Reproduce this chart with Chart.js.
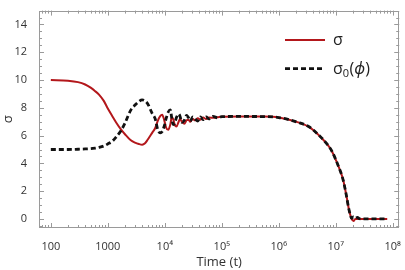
<!DOCTYPE html>
<html>
<head>
<meta charset="utf-8">
<script src="https://cdn.jsdelivr.net/npm/chart.js@4"></script>
<style>
  body { margin: 0; background: #fff; }
  canvas { display: block; }
</style>
</head>
<body>
<canvas id="sigma-chart" width="405" height="270"></canvas>
<script>
var times = [100, 200, 300, 400, 500, 600, 700, 850, 1000, 1200, 1400, 1700, 2000, 2500, 3000, 3500, 4000, 4500, 5000, 6000, 6800, 7500, 8300,
  9000, 9800, 10500, 11500, 12500, 13200, 14000, 15000, 16000, 17500, 18500, 20000, 22000, 24000, 26000, 28000, 31000, 34000, 38000, 42000,
  47000, 53000, 60000, 70000, 85000, 1e5, 2e5, 5e5, 1e6, 2.2e6, 3.5e6, 5e6, 7e6, 8.5e6, 1.1e7, 1.35e7, 1.55e7, 1.7e7, 1.9e7, 2.05e7,
  2.2e7, 2.4e7, 2.6e7, 3e7, 5e7, 8e7];

var sigma = [10.0, 9.95, 9.85, 9.68, 9.45, 9.2, 8.95, 8.5, 7.95, 7.4, 6.95, 6.45, 6.1, 5.68, 5.5, 5.4, 5.35, 5.45, 5.7, 6.2, 6.55, 7.05, 7.4,
  7.5, 7.1, 6.6, 6.42, 6.8, 7.3, 7.2, 6.75, 6.65, 7.0, 7.2, 7.0, 6.85, 7.1, 7.15, 7.0, 7.2, 7.1, 7.25, 7.15,
  7.3, 7.2, 7.3, 7.28, 7.33, 7.35, 7.38, 7.37, 7.3, 6.95, 6.6, 6.05, 5.4, 4.9, 3.85, 2.8, 1.6, 0.7, 0.0, -0.15,
  0.0, 0.0, 0.0, 0.0, 0.0, 0.0];

var sigma0 = [5.0, 5.0, 5.02, 5.04, 5.06, 5.1, 5.15, 5.25, 5.4, 5.6, 5.9, 6.35, 6.9, 7.8, 8.2, 8.45, 8.57, 8.5, 8.3, 7.6, 7.2, 6.45, 6.2,
  6.3, 6.7, 7.2, 7.7, 7.85, 7.3, 6.8, 6.9, 7.3, 7.55, 7.4, 6.95, 7.1, 7.45, 7.3, 7.05, 7.35, 7.2, 7.05, 7.35,
  7.15, 7.35, 7.2, 7.38, 7.28, 7.37, 7.38, 7.37, 7.3, 6.95, 6.6, 6.05, 5.4, 4.9, 3.85, 2.8, 1.6, 0.7, 0.05, 0.15,
  0.05, 0.12, 0.02, 0.0, 0.0, 0.0];

var xTickValues = [100, 1000, 1e4, 1e5, 1e6, 1e7, 1e8];
var xTickLabels = ["100", "1000", "10\u2074", "10\u2075", "10\u2076", "10\u2077", "10\u2078"];

var fontFamily = "'Open Sans', 'Noto Sans', sans-serif";
var redColor = "#b3171b";

function pairs(xs, ys) {
  return xs.map(function(t, i) { return { x: t, y: ys[i] }; });
}

// frame with inward ticks on all four sides, plus the legend
var framePlugin = {
  id: "frame",
  afterDraw: function(chart) {
    var ctx = chart.ctx;
    var a = chart.chartArea;
    var xs = chart.scales.x, ys = chart.scales.y;
    ctx.save();
    ctx.strokeStyle = "#9a9a9a";
    ctx.lineWidth = 1;
    ctx.strokeRect(Math.round(a.left) + 0.5, Math.round(a.top) + 0.5,
      Math.round(a.right - a.left) - 1, Math.round(a.bottom - a.top) - 1);

    ctx.beginPath();
    for (var d = 1; d <= 8; d++) {
      for (var m = 1; m <= 9; m++) {
        var v = m * Math.pow(10, d);
        if (v < xs.min || v > xs.max) continue;
        var px = Math.round(xs.getPixelForValue(v)) + 0.5;
        var len = m === 1 ? 5 : 3;
        ctx.moveTo(px, a.bottom); ctx.lineTo(px, a.bottom - len);
        ctx.moveTo(px, a.top); ctx.lineTo(px, a.top + len);
      }
    }
    for (var yv = Math.ceil(ys.min / 0.5) * 0.5; yv <= ys.max; yv += 0.5) {
      var py = Math.round(ys.getPixelForValue(yv)) + 0.5;
      var l = (Math.abs(yv % 2) < 1e-6) ? 5 : 3;
      ctx.moveTo(a.left, py); ctx.lineTo(a.left + l, py);
      ctx.moveTo(a.right, py); ctx.lineTo(a.right - l, py);
    }
    ctx.stroke();

    // legend
    var lx = a.left + 246, tx = lx + 48;
    ctx.lineWidth = 2;
    ctx.strokeStyle = redColor;
    ctx.beginPath();
    ctx.moveTo(lx, a.top + 29.5); ctx.lineTo(lx + 40, a.top + 29.5);
    ctx.stroke();
    ctx.strokeStyle = "#111";
    ctx.lineWidth = 2.8;
    ctx.setLineDash([5, 3]);
    ctx.beginPath();
    ctx.moveTo(lx, a.top + 58); ctx.lineTo(lx + 40, a.top + 58);
    ctx.stroke();
    ctx.setLineDash([]);

    ctx.fillStyle = "#222";
    ctx.textBaseline = "alphabetic";
    ctx.font = "16px " + fontFamily;
    ctx.fillText("\u03c3", tx, a.top + 34);
    var by = a.top + 63;
    ctx.fillText("\u03c3", tx, by);
    var w = ctx.measureText("\u03c3").width;
    ctx.font = "11px " + fontFamily;
    ctx.fillText("0", tx + w, by + 3);
    w += ctx.measureText("0").width + 0.5;
    ctx.font = "16px " + fontFamily;
    ctx.fillText("(", tx + w, by);
    w += ctx.measureText("(").width;
    ctx.font = "italic 16px " + fontFamily;
    ctx.fillText("\u03d5", tx + w, by);
    w += ctx.measureText("\u03d5").width;
    ctx.font = "16px " + fontFamily;
    ctx.fillText(")", tx + w, by);
    ctx.restore();
  }
};

var chart = new Chart(document.getElementById("sigma-chart"), {
  type: "line",
  data: {
    datasets: [
      {
        label: "\u03c3",
        data: pairs(times, sigma),
        borderColor: redColor,
        borderWidth: 2,
        pointRadius: 0,
        cubicInterpolationMode: "monotone",
        fill: false,
        order: 2
      },
      {
        label: "\u03c3\u2080(\u03d5)",
        data: pairs(times, sigma0),
        borderColor: "#111",
        borderWidth: 2.8,
        borderDash: [5, 3],
        pointRadius: 0,
        cubicInterpolationMode: "monotone",
        fill: false,
        order: 1
      }
    ]
  },
  options: {
    responsive: false,
    animation: false,
    layout: { padding: { top: 4, right: 3, left: 0, bottom: 0 } },
    plugins: {
      legend: { display: false },
      tooltip: { enabled: false }
    },
    scales: {
      x: {
        type: "logarithmic",
        min: 62,
        max: 1.3e8,
        grid: { display: false },
        border: { display: false },
        afterBuildTicks: function(scale) {
          scale.ticks = xTickValues.map(function(v) { return { value: v }; });
        },
        afterFit: function(scale) { scale.height = 42; },
        ticks: {
          autoSkip: false,
          maxRotation: 0,
          padding: 4,
          color: "#333",
          font: { family: fontFamily, size: 11 },
          callback: function(value) {
            var i = xTickValues.indexOf(value);
            return i >= 0 ? xTickLabels[i] : "";
          }
        },
        title: {
          display: true,
          text: "Time (t)",
          color: "#333",
          font: { family: fontFamily, size: 13 },
          padding: { top: 2, bottom: 0 }
        }
      },
      y: {
        min: -0.65,
        max: 15,
        grid: { display: false },
        border: { display: false },
        afterFit: function(scale) { scale.width = 39; },
        ticks: {
          stepSize: 2,
          includeBounds: false,
          padding: 4,
          color: "#333",
          font: { family: fontFamily, size: 11 }
        },
        title: {
          display: true,
          text: "\u03c3",
          color: "#333",
          font: { family: fontFamily, size: 13 },
          padding: { top: 0, bottom: 4 }
        }
      }
    }
  },
  plugins: [framePlugin]
});
</script>
</body>
</html>
